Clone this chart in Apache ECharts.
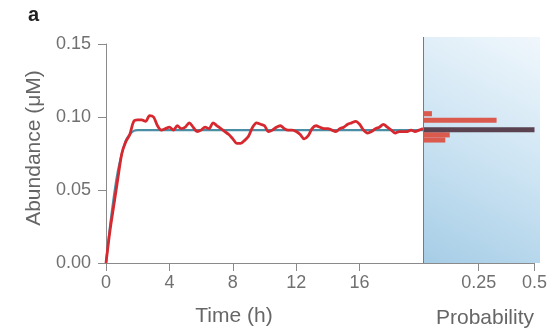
<!DOCTYPE html>
<html><head><meta charset="utf-8">
<script src="https://cdn.jsdelivr.net/npm/echarts@6/dist/echarts.min.js"></script>
<style>html,body{margin:0;padding:0;background:#fff}#c{width:550px;height:331px}</style>
</head><body><div id="c"></div>
<script>
// Stochastic trajectory (time h, abundance µM)
const stochTime = [0,0.25,0.5,0.75,1,1.25,1.5,1.75,2,2.25,2.5,2.75,3,3.25,3.5,3.75,4,4.25,4.5,4.75,5,5.25,5.5,5.75,6,6.25,6.5,6.75,7,7.25,7.5,7.75,8,8.25,8.5,8.75,9,9.25,9.5,9.75,10,10.25,10.5,10.75,11,11.25,11.5,11.75,12,12.25,12.5,12.75,13,13.25,13.5,13.75,14,14.25,14.5,14.75,15,15.25,15.5,15.75,16,16.25,16.5,16.75,17,17.25,17.5,17.75,18,18.25,18.5,18.75,19,19.25,19.5,19.75,20];
const stochValue = [0,0.022,0.04,0.058,0.075,0.083,0.088,0.097,0.098,0.098,0.097,0.101,0.1,0.094,0.091,0.092,0.093,0.091,0.094,0.092,0.093,0.096,0.093,0.09,0.091,0.093,0.092,0.096,0.094,0.092,0.09,0.088,0.085,0.082,0.082,0.084,0.087,0.093,0.096,0.095,0.094,0.09,0.091,0.093,0.094,0.092,0.091,0.091,0.09,0.088,0.085,0.087,0.092,0.094,0.093,0.092,0.092,0.091,0.09,0.092,0.093,0.095,0.096,0.097,0.095,0.091,0.089,0.09,0.092,0.093,0.095,0.093,0.091,0.089,0.09,0.09,0.09,0.091,0.09,0.091,0.092];
// Deterministic trajectory
const detTime = [0,0.25,0.5,0.75,1,1.25,1.5,1.75,2,20];
const detValue = [0,0.025,0.046,0.063,0.075,0.084,0.088,0.0905,0.091,0.091];
// Histogram bins: lower edge, upper edge, probability
const binLo = [0.0825,0.086,0.0895,0.096,0.1005];
const binHi = [0.086,0.0895,0.0925,0.0995,0.104];
const binProb = [0.10,0.12,0.10,0.33,0.04];
// Deterministic steady-state bin
const detBinLo = [0.0895];
const detBinHi = [0.093];
const detBinProb = [0.5];
const timeTicks = [0,4,8,12,16];
const probTicks = [0.25,0.5];
const panelLabel = 'a';
const yTitle = 'Abundance (μM)';
const xTitle = 'Time (h)';
const pTitle = 'Probability';

const zip = (a,b)=>a.map((v,i)=>[v,b[i]]);
const zip3 = (a,b,c)=>a.map((v,i)=>[v,b[i],c[i]]);

const font = '"Liberation Sans", Arial, sans-serif';
const axisGrey = '#8a8a8a';
const labelGrey = '#707070';
const titleGrey = '#666';

function renderBin(params, api){
  const lo = api.value(0), hi = api.value(1), p = api.value(2);
  const a = api.coord([0, hi]);
  const b = api.coord([p, lo]);
  return {type:'rect', shape:{x:a[0], y:a[1], width:b[0]-a[0], height:b[1]-a[1]},
          style:{fill: api.visual('color')}};
}

const chart = echarts.init(document.getElementById('c'), null, {renderer:'canvas'});
chart.setOption({
  animation:false,
  backgroundColor:'#fff',
  graphic:[
    {type:'rect', z:-10, shape:{x:423, y:37, width:117, height:226},
     style:{fill:new echarts.graphic.LinearGradient(0,1,1,0,[
       {offset:0, color:'#a6cde6'},{offset:0.5, color:'#cde4f3'},{offset:1, color:'#f0f7fc'}])}},
    {type:'line', z:10, shape:{x1:423.5, y1:37, x2:423.5, y2:263}, style:{stroke:'#7a7a7a', lineWidth:1}},
    {type:'text', x:28, y:15, style:{text:panelLabel, font:'bold 20px '+font, fill:'#222', textVerticalAlign:'middle'}},
    {type:'text', x:234, y:316, style:{text:xTitle, font:'21px '+font, fill:titleGrey, textAlign:'center', textVerticalAlign:'middle'}},
    {type:'text', x:485, y:318, style:{text:pTitle, font:'21px '+font, fill:titleGrey, textAlign:'center', textVerticalAlign:'middle'}},
    {type:'text', x:34, y:148, rotation:Math.PI/2, style:{text:yTitle, font:'21px '+font, fill:titleGrey, textAlign:'center', textVerticalAlign:'middle'}}
  ],
  grid:[
    {left:106, right:127, top:44, bottom:68},
    {left:423, right:12, top:44, bottom:68}
  ],
  xAxis:[
    {gridIndex:0, type:'value', min:0, max:20, interval:4,
     axisLine:{lineStyle:{color:axisGrey}},
     axisTick:{show:true, length:8, lineStyle:{color:axisGrey}, customValues:timeTicks},
     axisLabel:{color:labelGrey, fontFamily:font, fontSize:18, margin:11, customValues:timeTicks,
       formatter:v=>String(v)},
     splitLine:{show:false}},
    {gridIndex:1, type:'value', min:0, max:0.5, interval:0.25,
     axisLine:{lineStyle:{color:axisGrey}},
     axisTick:{show:true, length:8, lineStyle:{color:axisGrey}, customValues:probTicks},
     axisLabel:{color:labelGrey, fontFamily:font, fontSize:18, margin:11, customValues:probTicks,
       formatter:v=>String(v)},
     splitLine:{show:false}}
  ],
  yAxis:[
    {gridIndex:0, type:'value', min:0, max:0.15, interval:0.05,
     axisLine:{show:true, lineStyle:{color:axisGrey}}, axisTick:{show:true, length:8, lineStyle:{color:axisGrey}},
     axisLabel:{color:labelGrey, fontFamily:font, fontSize:18, margin:15, formatter:v=>v.toFixed(2)},
     splitLine:{show:false}},
    {gridIndex:1, type:'value', min:0, max:0.15, interval:0.05,
     axisLine:{show:false}, axisTick:{show:false}, axisLabel:{show:false}, splitLine:{show:false}}
  ],
  series:[
    {type:'line', xAxisIndex:0, yAxisIndex:0, data:zip(detTime, detValue), showSymbol:false, smooth:0.3,
     lineStyle:{color:'#4a8ea6', width:2.2}, z:2},
    {type:'line', xAxisIndex:0, yAxisIndex:0, data:zip(stochTime, stochValue), showSymbol:false, smooth:0.3,
     lineStyle:{color:'#d6282e', width:2.8}, z:3},
    {type:'custom', xAxisIndex:1, yAxisIndex:1, renderItem:renderBin, encode:{x:2, y:[0,1]},
     data:zip3(binLo, binHi, binProb), itemStyle:{color:'#da5a4e'}, z:3},
    {type:'custom', xAxisIndex:1, yAxisIndex:1, renderItem:renderBin, encode:{x:2, y:[0,1]},
     data:zip3(detBinLo, detBinHi, detBinProb), itemStyle:{color:'#5a4250'}, z:4}
  ]
});
</script></body></html>
